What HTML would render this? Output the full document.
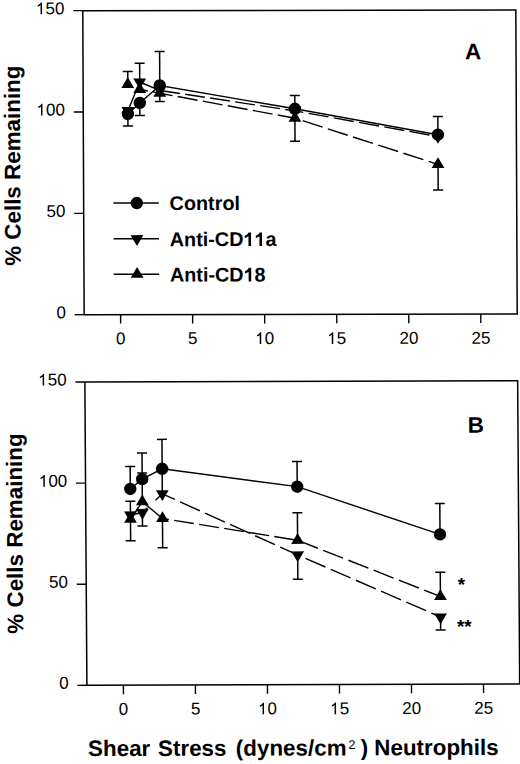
<!DOCTYPE html>
<html><head><meta charset="utf-8"><style>
html,body{margin:0;padding:0;background:#fff;}
body{width:520px;height:764px;overflow:hidden;}
svg{display:block;}
text{font-family:"Liberation Sans",sans-serif;fill:#000;stroke:none;font-kerning:none;}
</style></head><body>
<svg width="520" height="764" viewBox="0 0 520 764" stroke="#000" fill="#000">
<g transform="translate(84.0 314.7) matrix(1 -0.0015 0.0045 1 0 0) translate(-84.0 -314.7)">
<polyline points="84.15,10.66 517.20,10.66 517.20,314.67 84.15,314.67 84.15,10.66" fill="none" stroke-width="1.5"/>
<line x1="74.65" y1="314.67" x2="84.15" y2="314.67" stroke-width="1.4"/>
<text x="65.90" y="318.17" font-size="17" text-anchor="end" font-weight="normal" >0</text>
<line x1="74.65" y1="213.33" x2="84.15" y2="213.33" stroke-width="1.4"/>
<text x="65.90" y="216.83" font-size="17" text-anchor="end" font-weight="normal" >50</text>
<line x1="74.65" y1="112.00" x2="84.15" y2="112.00" stroke-width="1.4"/>
<text x="65.90" y="115.50" font-size="17" text-anchor="end" font-weight="normal" >&#x2007;00</text>
<path d="M 710 0 L 530 0 L 530 1100 C 470 1045 390 990 300 950 C 265 935 230 922 200 912 L 200 1080 C 300 1120 390 1180 460 1250 C 515 1305 555 1360 580 1409 L 710 1409 Z" transform="translate(37.53 115.50) scale(0.00830 -0.00830)" stroke="none"/>
<line x1="74.65" y1="10.66" x2="84.15" y2="10.66" stroke-width="1.4"/>
<text x="65.90" y="14.16" font-size="17" text-anchor="end" font-weight="normal" >&#x2007;50</text>
<path d="M 710 0 L 530 0 L 530 1100 C 470 1045 390 990 300 950 C 265 935 230 922 200 912 L 200 1080 C 300 1120 390 1180 460 1250 C 515 1305 555 1360 580 1409 L 710 1409 Z" transform="translate(37.53 14.16) scale(0.00830 -0.00830)" stroke="none"/>
<line x1="120.60" y1="314.67" x2="120.60" y2="323.67" stroke-width="1.4"/>
<text x="120.60" y="344.27" font-size="17" text-anchor="middle" font-weight="normal" >0</text>
<line x1="192.64" y1="314.67" x2="192.64" y2="323.67" stroke-width="1.4"/>
<text x="192.64" y="344.27" font-size="17" text-anchor="middle" font-weight="normal" >5</text>
<line x1="264.68" y1="314.67" x2="264.68" y2="323.67" stroke-width="1.4"/>
<text x="264.68" y="344.27" font-size="17" text-anchor="middle" font-weight="normal" >&#x2007;0</text>
<path d="M 710 0 L 530 0 L 530 1100 C 470 1045 390 990 300 950 C 265 935 230 922 200 912 L 200 1080 C 300 1120 390 1180 460 1250 C 515 1305 555 1360 580 1409 L 710 1409 Z" transform="translate(255.22 344.27) scale(0.00830 -0.00830)" stroke="none"/>
<line x1="336.72" y1="314.67" x2="336.72" y2="323.67" stroke-width="1.4"/>
<text x="336.72" y="344.27" font-size="17" text-anchor="middle" font-weight="normal" >&#x2007;5</text>
<path d="M 710 0 L 530 0 L 530 1100 C 470 1045 390 990 300 950 C 265 935 230 922 200 912 L 200 1080 C 300 1120 390 1180 460 1250 C 515 1305 555 1360 580 1409 L 710 1409 Z" transform="translate(327.26 344.27) scale(0.00830 -0.00830)" stroke="none"/>
<line x1="408.76" y1="314.67" x2="408.76" y2="323.67" stroke-width="1.4"/>
<text x="408.76" y="344.27" font-size="17" text-anchor="middle" font-weight="normal" >20</text>
<line x1="480.80" y1="314.67" x2="480.80" y2="323.67" stroke-width="1.4"/>
<text x="480.80" y="344.27" font-size="17" text-anchor="middle" font-weight="normal" >25</text>
<text x="474.30" y="59.80" font-size="22.5" text-anchor="middle" font-weight="bold" >A</text>
<text x="20.90" y="165.60" font-size="22.4" text-anchor="middle" font-weight="bold" transform="rotate(-90 20.9 165.6)">% Cells Remaining</text>
<line x1="128.81" y1="114.06" x2="128.81" y2="126.06" stroke-width="1.5"/>
<line x1="123.81" y1="126.06" x2="133.81" y2="126.06" stroke-width="1.5"/>
<line x1="140.77" y1="103.08" x2="140.77" y2="115.58" stroke-width="1.5"/>
<line x1="135.77" y1="115.58" x2="145.77" y2="115.58" stroke-width="1.5"/>
<line x1="160.80" y1="85.61" x2="160.80" y2="51.60" stroke-width="1.5"/>
<line x1="155.80" y1="51.60" x2="165.80" y2="51.60" stroke-width="1.5"/>
<line x1="295.80" y1="109.12" x2="295.80" y2="95.92" stroke-width="1.5"/>
<line x1="290.80" y1="95.92" x2="300.80" y2="95.92" stroke-width="1.5"/>
<line x1="438.73" y1="135.22" x2="438.73" y2="116.92" stroke-width="1.5"/>
<line x1="433.73" y1="116.92" x2="443.73" y2="116.92" stroke-width="1.5"/>
<line x1="140.77" y1="82.08" x2="140.77" y2="63.36" stroke-width="1.5"/>
<line x1="135.77" y1="63.36" x2="145.77" y2="63.36" stroke-width="1.5"/>
<line x1="128.81" y1="84.37" x2="128.81" y2="71.46" stroke-width="1.5"/>
<line x1="123.81" y1="71.46" x2="133.81" y2="71.46" stroke-width="1.5"/>
<line x1="160.80" y1="93.35" x2="160.80" y2="101.70" stroke-width="1.5"/>
<line x1="155.80" y1="101.70" x2="165.80" y2="101.70" stroke-width="1.5"/>
<line x1="295.80" y1="118.52" x2="295.80" y2="141.53" stroke-width="1.5"/>
<line x1="290.80" y1="141.53" x2="300.80" y2="141.53" stroke-width="1.5"/>
<line x1="438.73" y1="164.93" x2="438.73" y2="190.53" stroke-width="1.5"/>
<line x1="433.73" y1="190.53" x2="443.73" y2="190.53" stroke-width="1.5"/>
<polyline points="128.81,114.06 140.77,103.08 160.80,85.61 295.80,109.12 438.73,135.22" fill="none" stroke-width="1.4"/>
<line x1="128.81" y1="110.78" x2="140.77" y2="82.08" stroke-width="1.4" stroke-dasharray="51.55 13.70" stroke-dashoffset="0.00"/>
<line x1="140.77" y1="82.08" x2="160.80" y2="90.51" stroke-width="1.4" stroke-dasharray="21.51 5.72" stroke-dashoffset="0.00"/>
<line x1="160.80" y1="90.51" x2="295.80" y2="111.23" stroke-width="1.4" stroke-dasharray="19.98 5.31" stroke-dashoffset="24.99"/>
<line x1="295.80" y1="111.23" x2="438.73" y2="137.03" stroke-width="1.4" stroke-dasharray="20.23 5.38" stroke-dashoffset="11.69"/>
<line x1="128.81" y1="84.37" x2="140.77" y2="89.58" stroke-width="1.4" stroke-dasharray="4 5.5 100"/>
<line x1="140.77" y1="89.58" x2="160.80" y2="93.35" stroke-width="1.4" stroke-dasharray="8.2 5.5 100"/>
<line x1="160.80" y1="93.35" x2="295.80" y2="118.52" stroke-width="1.4" stroke-dasharray="20.09 5.34" stroke-dashoffset="7.22"/>
<line x1="295.80" y1="118.52" x2="438.73" y2="164.93" stroke-width="1.4" stroke-dasharray="20.90 5.56" stroke-dashoffset="18.36"/>
<polygon points="122.41,87.97 135.21,87.97 128.81,77.17" stroke="none"/>
<polygon points="134.37,93.18 147.17,93.18 140.77,82.38" stroke="none"/>
<polygon points="154.40,96.95 167.20,96.95 160.80,86.15" stroke="none"/>
<polygon points="289.40,122.12 302.20,122.12 295.80,111.32" stroke="none"/>
<polygon points="432.33,168.53 445.13,168.53 438.73,157.73" stroke="none"/>
<polygon points="122.41,107.18 135.21,107.18 128.81,117.98" stroke="none"/>
<polygon points="134.37,78.48 147.17,78.48 140.77,89.28" stroke="none"/>
<polygon points="154.40,86.91 167.20,86.91 160.80,97.71" stroke="none"/>
<polygon points="289.40,107.63 302.20,107.63 295.80,118.43" stroke="none"/>
<polygon points="432.33,133.43 445.13,133.43 438.73,144.23" stroke="none"/>
<circle cx="128.81" cy="114.06" r="6.2" stroke="none"/>
<circle cx="140.77" cy="103.08" r="6.2" stroke="none"/>
<circle cx="160.80" cy="85.61" r="6.2" stroke="none"/>
<circle cx="295.80" cy="109.12" r="6.2" stroke="none"/>
<circle cx="438.73" cy="135.22" r="6.2" stroke="none"/>
<line x1="113.90" y1="203.10" x2="159.30" y2="203.10" stroke-width="1.4"/>
<line x1="113.90" y1="238.80" x2="159.30" y2="238.80" stroke-width="1.4"/>
<line x1="113.90" y1="274.30" x2="159.30" y2="274.30" stroke-width="1.4"/>
<circle cx="137.30" cy="203.10" r="6.2" stroke="none"/>
<polygon points="130.90,235.20 143.70,235.20 137.30,246.00" stroke="none"/>
<polygon points="130.90,277.90 143.70,277.90 137.30,267.10" stroke="none"/>
<text x="170.10" y="210.20" font-size="19.8" text-anchor="start" font-weight="bold" >Control</text>
<text x="170.10" y="246.30" font-size="19.8" text-anchor="start" font-weight="bold" >Anti-CD&#x2007;&#x2007;a</text>
<path d="M 790 0 L 520 0 L 520 1010 C 420 925 290 860 140 820 L 140 1060 C 250 1095 340 1150 410 1215 C 470 1272 510 1335 530 1409 L 790 1409 Z" transform="translate(243.76 246.30) scale(0.00967 -0.00967)" stroke="none"/>
<path d="M 790 0 L 520 0 L 520 1010 C 420 925 290 860 140 820 L 140 1060 C 250 1095 340 1150 410 1215 C 470 1272 510 1335 530 1409 L 790 1409 Z" transform="translate(254.77 246.30) scale(0.00967 -0.00967)" stroke="none"/>
<text x="170.10" y="281.70" font-size="19.8" text-anchor="start" font-weight="bold" >Anti-CD&#x2007;8</text>
<path d="M 790 0 L 520 0 L 520 1010 C 420 925 290 860 140 820 L 140 1060 C 250 1095 340 1150 410 1215 C 470 1272 510 1335 530 1409 L 790 1409 Z" transform="translate(243.76 281.70) scale(0.00967 -0.00967)" stroke="none"/>
</g>
<g transform="translate(86.9 685.35) matrix(1 -0.003 0.0067 1 0 0) translate(-86.9 -685.35)">
<polyline points="86.90,381.97 519.70,381.97 519.70,685.30 86.90,685.30 86.90,381.97" fill="none" stroke-width="1.5"/>
<line x1="77.40" y1="685.30" x2="86.90" y2="685.30" stroke-width="1.4"/>
<text x="68.65" y="688.80" font-size="17" text-anchor="end" font-weight="normal" >0</text>
<line x1="77.40" y1="584.19" x2="86.90" y2="584.19" stroke-width="1.4"/>
<text x="68.65" y="587.69" font-size="17" text-anchor="end" font-weight="normal" >50</text>
<line x1="77.40" y1="483.08" x2="86.90" y2="483.08" stroke-width="1.4"/>
<text x="68.65" y="486.58" font-size="17" text-anchor="end" font-weight="normal" >&#x2007;00</text>
<path d="M 710 0 L 530 0 L 530 1100 C 470 1045 390 990 300 950 C 265 935 230 922 200 912 L 200 1080 C 300 1120 390 1180 460 1250 C 515 1305 555 1360 580 1409 L 710 1409 Z" transform="translate(40.28 486.58) scale(0.00830 -0.00830)" stroke="none"/>
<line x1="77.40" y1="381.97" x2="86.90" y2="381.97" stroke-width="1.4"/>
<text x="68.65" y="385.47" font-size="17" text-anchor="end" font-weight="normal" >&#x2007;50</text>
<path d="M 710 0 L 530 0 L 530 1100 C 470 1045 390 990 300 950 C 265 935 230 922 200 912 L 200 1080 C 300 1120 390 1180 460 1250 C 515 1305 555 1360 580 1409 L 710 1409 Z" transform="translate(40.28 385.47) scale(0.00830 -0.00830)" stroke="none"/>
<line x1="123.40" y1="685.30" x2="123.40" y2="694.30" stroke-width="1.4"/>
<text x="123.40" y="714.90" font-size="17" text-anchor="middle" font-weight="normal" >0</text>
<line x1="195.42" y1="685.30" x2="195.42" y2="694.30" stroke-width="1.4"/>
<text x="195.42" y="714.90" font-size="17" text-anchor="middle" font-weight="normal" >5</text>
<line x1="267.44" y1="685.30" x2="267.44" y2="694.30" stroke-width="1.4"/>
<text x="267.44" y="714.90" font-size="17" text-anchor="middle" font-weight="normal" >&#x2007;0</text>
<path d="M 710 0 L 530 0 L 530 1100 C 470 1045 390 990 300 950 C 265 935 230 922 200 912 L 200 1080 C 300 1120 390 1180 460 1250 C 515 1305 555 1360 580 1409 L 710 1409 Z" transform="translate(257.98 714.90) scale(0.00830 -0.00830)" stroke="none"/>
<line x1="339.46" y1="685.30" x2="339.46" y2="694.30" stroke-width="1.4"/>
<text x="339.46" y="714.90" font-size="17" text-anchor="middle" font-weight="normal" >&#x2007;5</text>
<path d="M 710 0 L 530 0 L 530 1100 C 470 1045 390 990 300 950 C 265 935 230 922 200 912 L 200 1080 C 300 1120 390 1180 460 1250 C 515 1305 555 1360 580 1409 L 710 1409 Z" transform="translate(330.00 714.90) scale(0.00830 -0.00830)" stroke="none"/>
<line x1="411.48" y1="685.30" x2="411.48" y2="694.30" stroke-width="1.4"/>
<text x="411.48" y="714.90" font-size="17" text-anchor="middle" font-weight="normal" >20</text>
<line x1="483.50" y1="685.30" x2="483.50" y2="694.30" stroke-width="1.4"/>
<text x="483.50" y="714.90" font-size="17" text-anchor="middle" font-weight="normal" >25</text>
<text x="477.60" y="434.00" font-size="22.5" text-anchor="middle" font-weight="bold" >B</text>
<text x="23.50" y="533.30" font-size="22.4" text-anchor="middle" font-weight="bold" transform="rotate(-90 23.5 533.3)">% Cells Remaining</text>
<line x1="131.61" y1="489.11" x2="131.61" y2="466.70" stroke-width="1.5"/>
<line x1="126.61" y1="466.70" x2="136.61" y2="466.70" stroke-width="1.5"/>
<line x1="143.57" y1="479.34" x2="143.57" y2="453.15" stroke-width="1.5"/>
<line x1="138.57" y1="453.15" x2="148.57" y2="453.15" stroke-width="1.5"/>
<line x1="163.59" y1="469.01" x2="163.59" y2="439.60" stroke-width="1.5"/>
<line x1="158.59" y1="439.60" x2="168.59" y2="439.60" stroke-width="1.5"/>
<line x1="298.55" y1="487.31" x2="298.55" y2="462.21" stroke-width="1.5"/>
<line x1="293.55" y1="462.21" x2="303.55" y2="462.21" stroke-width="1.5"/>
<line x1="441.01" y1="535.43" x2="441.01" y2="504.64" stroke-width="1.5"/>
<line x1="436.01" y1="504.64" x2="446.01" y2="504.64" stroke-width="1.5"/>
<line x1="131.61" y1="519.32" x2="131.61" y2="501.30" stroke-width="1.5"/>
<line x1="126.61" y1="501.30" x2="136.61" y2="501.30" stroke-width="1.5"/>
<line x1="131.61" y1="515.11" x2="131.61" y2="540.91" stroke-width="1.5"/>
<line x1="126.61" y1="540.91" x2="136.61" y2="540.91" stroke-width="1.5"/>
<line x1="143.57" y1="501.89" x2="143.57" y2="473.25" stroke-width="1.5"/>
<line x1="138.57" y1="473.25" x2="148.57" y2="473.25" stroke-width="1.5"/>
<line x1="143.57" y1="512.64" x2="143.57" y2="526.15" stroke-width="1.5"/>
<line x1="138.57" y1="526.15" x2="148.57" y2="526.15" stroke-width="1.5"/>
<line x1="163.59" y1="494.00" x2="163.59" y2="469.01" stroke-width="1.5"/>
<line x1="163.59" y1="518.71" x2="163.59" y2="547.91" stroke-width="1.5"/>
<line x1="158.59" y1="547.91" x2="168.59" y2="547.91" stroke-width="1.5"/>
<line x1="298.55" y1="540.91" x2="298.55" y2="513.31" stroke-width="1.5"/>
<line x1="293.55" y1="513.31" x2="303.55" y2="513.31" stroke-width="1.5"/>
<line x1="298.55" y1="555.62" x2="298.55" y2="579.82" stroke-width="1.5"/>
<line x1="293.55" y1="579.82" x2="303.55" y2="579.82" stroke-width="1.5"/>
<line x1="441.01" y1="597.56" x2="441.01" y2="573.25" stroke-width="1.5"/>
<line x1="436.01" y1="573.25" x2="446.01" y2="573.25" stroke-width="1.5"/>
<line x1="441.01" y1="618.06" x2="441.01" y2="631.06" stroke-width="1.5"/>
<line x1="436.01" y1="631.06" x2="446.01" y2="631.06" stroke-width="1.5"/>
<polyline points="131.61,489.11 143.57,479.34 163.59,469.01 298.55,487.31 441.01,535.43" fill="none" stroke-width="1.4"/>
<line x1="131.61" y1="515.11" x2="143.57" y2="512.64" stroke-width="1.4" stroke-dasharray="20.25 5.38" stroke-dashoffset="0.00"/>
<line x1="143.57" y1="512.64" x2="163.59" y2="494.00" stroke-width="1.4" stroke-dasharray="7 11 40"/>
<line x1="163.59" y1="494.00" x2="298.55" y2="555.62" stroke-width="1.4" stroke-dasharray="21.67 5.76" stroke-dashoffset="7.97"/>
<line x1="298.55" y1="555.62" x2="441.01" y2="618.06" stroke-width="1.4" stroke-dasharray="21.65 5.76" stroke-dashoffset="18.89"/>
<line x1="131.61" y1="519.32" x2="143.57" y2="501.89" stroke-width="1.4" stroke-dasharray="35.06 9.32" stroke-dashoffset="0.00"/>
<line x1="143.57" y1="501.89" x2="163.59" y2="518.71" stroke-width="1.4" stroke-dasharray="25.90 6.88" stroke-dashoffset="0.00"/>
<line x1="163.59" y1="518.71" x2="298.55" y2="540.91" stroke-width="1.4" stroke-dasharray="20.02 5.32" stroke-dashoffset="13.58"/>
<line x1="298.55" y1="540.91" x2="441.01" y2="597.56" stroke-width="1.4" stroke-dasharray="21.42 5.69" stroke-dashoffset="26.80"/>
<polygon points="125.21,522.92 138.01,522.92 131.61,512.12" stroke="none"/>
<polygon points="137.17,505.49 149.97,505.49 143.57,494.69" stroke="none"/>
<polygon points="157.19,522.31 169.99,522.31 163.59,511.51" stroke="none"/>
<polygon points="292.15,544.51 304.95,544.51 298.55,533.71" stroke="none"/>
<polygon points="434.61,601.16 447.41,601.16 441.01,590.36" stroke="none"/>
<polygon points="125.21,511.51 138.01,511.51 131.61,522.31" stroke="none"/>
<polygon points="137.17,509.04 149.97,509.04 143.57,519.84" stroke="none"/>
<polygon points="157.19,490.40 169.99,490.40 163.59,501.20" stroke="none"/>
<polygon points="292.15,552.02 304.95,552.02 298.55,562.82" stroke="none"/>
<polygon points="434.61,614.46 447.41,614.46 441.01,625.26" stroke="none"/>
<circle cx="131.61" cy="489.11" r="6.2" stroke="none"/>
<circle cx="143.57" cy="479.34" r="6.2" stroke="none"/>
<circle cx="163.59" cy="469.01" r="6.2" stroke="none"/>
<circle cx="298.55" cy="487.31" r="6.2" stroke="none"/>
<circle cx="441.01" cy="535.43" r="6.2" stroke="none"/>
<text x="462.20" y="592.00" font-size="19" text-anchor="middle" font-weight="bold" >*</text>
<text x="464.65" y="634.10" font-size="19" text-anchor="middle" font-weight="bold" >**</text>
<text x="87.60" y="756.10" font-size="22.4" text-anchor="start" font-weight="bold" >Shear</text>
<text x="157.60" y="756.10" font-size="22.4" text-anchor="start" font-weight="bold" >Stress</text>
<text x="235.40" y="756.10" font-size="22.4" text-anchor="start" font-weight="bold" >(dynes/cm</text>
<text x="348.10" y="749.80" font-size="12.6" text-anchor="start" font-weight="normal" >2</text>
<text x="360.20" y="756.10" font-size="22.4" text-anchor="start" font-weight="bold" >)</text>
<text x="373.80" y="756.10" font-size="22.4" text-anchor="start" font-weight="bold" >Neutrophils</text>
</g>
</svg>
</body></html>
